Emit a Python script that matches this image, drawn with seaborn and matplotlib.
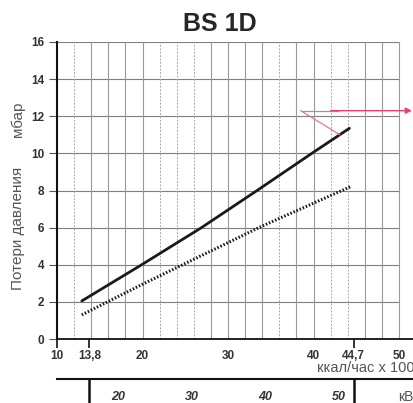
import numpy as np
import pandas as pd
import seaborn as sns
import matplotlib.pyplot as plt
import matplotlib.transforms as mtransforms

# данные (ккал/час x 1000 -> мбар)
solid_x = [12.9, 19.9, 26.9, 33.4, 39.8, 44.2]
solid_y = [2.05, 4.0, 6.0, 8.0, 10.0, 11.35]
dotted_x = [12.9, 15.9, 20.0, 24.7, 33.6, 44.3]
dotted_y = [1.3, 2.0, 2.95, 4.0, 6.0, 8.2]

x_ticks = [10, 13.8, 20, 30, 40, 44.7, 50]
x_ticklabels = ["10", "13,8", "20", "30", "40", "44,7", "50"]
y_ticks = [0, 2, 4, 6, 8, 10, 12, 14, 16]
kw_ticks = [20, 30, 40, 50]
kw_marks = [16, 52]

grid_solid_x = [14, 16, 18, 20, 28, 30, 32, 34, 38, 40, 46, 48, 50]
grid_dashed_x = [12, 22, 24, 26, 36, 42, 44]

sns.set_style("white")
plt.rcParams['font.family'] = ['Liberation Sans', 'DejaVu Sans']
tick_font = ['Liberation Sans Narrow', 'Liberation Sans', 'DejaVu Sans']

W, H = 414, 403
fig = plt.figure(figsize=(W / 100, H / 100), dpi=100)
ax = fig.add_axes([57 / W, 1 - 339 / H, 1 - 57 / W, (339 - 42) / H])
ax.set_xlim(10, 10 + (W - 57) / 8.55)
ax.set_ylim(0, 16)

# сетка
for gy in y_ticks[1:]:
    ax.hlines(gy, 10, 50, color="#7f7f7f", lw=0.8, zorder=1)
ax.vlines(grid_solid_x, 0, 16, color="#9a9a9a", lw=0.8, zorder=1)
ax.vlines(grid_dashed_x, 0, 16, color="#a8a8a8", lw=0.7, linestyles=(0, (2, 1.5)), zorder=1)

df_solid = pd.DataFrame({"x": solid_x, "y": solid_y})
df_dot = pd.DataFrame({"x": dotted_x, "y": dotted_y})
sns.lineplot(data=df_solid, x="x", y="y", ax=ax, color="#1a1a1a", lw=2.0, zorder=3)
sns.lineplot(data=df_dot, x="x", y="y", ax=ax, color="#1a1a1a", lw=2.2,
             linestyle=(0, (0.5, 0.6)), zorder=3)

# указатель
ax.plot([43.1, 38.5], [11.0, 12.3], color="#d9799a", lw=0.9, zorder=4)
ax.hlines(12.3, 38.5, 43.0, color="#999999", lw=0.9, zorder=4)
ax.annotate("", xy=(51.5, 12.3), xytext=(42.0, 12.3), annotation_clip=False,
            arrowprops=dict(arrowstyle="-|>", color="#e8406c", lw=1.0,
                            mutation_scale=9, shrinkA=0, shrinkB=0), zorder=4)

for s in ["top", "right"]:
    ax.spines[s].set_visible(False)
ax.spines["left"].set_linewidth(1.5)
ax.spines["left"].set_color("#111111")
ax.spines["bottom"].set_linewidth(1.3)
ax.spines["bottom"].set_color("#111111")

ax.set_yticks(y_ticks)
ax.set_yticklabels([str(v) for v in y_ticks], family=tick_font, weight="bold",
                   fontsize=8.5, color="#333333")
ax.tick_params(axis="y", direction="out", length=6, width=0.8, color="#555555", pad=3, left=True)
ax.set_xticks(x_ticks)
ax.set_xticklabels(x_ticklabels, family=tick_font, weight="bold", fontsize=8.5, color="#333333")
ax.tick_params(axis="x", direction="out", length=6.5, width=1.2, color="#111111", pad=1.5, bottom=True)
for i, t in enumerate(ax.xaxis.get_major_ticks()):
    if x_ticks[i] not in (10, 13.8, 44.7):
        t.tick1line.set_visible(False)
ax.set_xlabel("")
ax.set_ylabel("")

fig.text(317 / W, 1 - 368 / H, "ккал/час x 1000", fontsize=10.5, color="#555555",
         ha="left", va="center")
fig.text(18 / W, 1 - 119 / H, "мбар", fontsize=11, color="#555555", rotation=90,
         ha="center", va="center")
fig.text(18 / W, 1 - 228 / H, "Потери давления", fontsize=11, color="#555555", rotation=90,
         ha="center", va="center")
fig.text(220 / W, 1 - 24 / H, "BS 1D", fontsize=18, weight="bold", ha="center", va="center")

# шкала кВт
ax2 = fig.add_axes([57 / W, 1 - 379 / H, 1 - 57 / W, 0.0001])
ax2.set_xlim(ax.get_xlim()[0] / 0.86, ax.get_xlim()[1] / 0.86)
for s in ["top", "right", "left"]:
    ax2.spines[s].set_visible(False)
ax2.spines["bottom"].set_linewidth(1.5)
ax2.spines["bottom"].set_color("#111111")
ax2.set_yticks([])
ax2.set_xticks(kw_ticks)
ax2.set_xticklabels([str(v) for v in kw_ticks], family=tick_font, weight="bold",
                    style="italic", fontsize=9, color="#333333")
ax2.tick_params(axis="x", direction="out", length=4, width=0.6, color="#888888", pad=5)
trans = mtransforms.blended_transform_factory(ax2.transData, fig.transFigure)
for m in kw_marks:
    ax2.plot([m, m], [1 - 379 / H, 0], color="#111111", lw=1.8, transform=trans, clip_on=False)
    ax2.text(m, -6 / H, str(m), transform=trans, family=tick_font, weight="bold",
             fontsize=9, color="#333333", ha="center", va="center", clip_on=False)
fig.text(398 / W, 1 - 397 / H, "кВт", fontsize=10, color="#555555", ha="left", va="center")

fig.savefig("out.png", dpi=100)
